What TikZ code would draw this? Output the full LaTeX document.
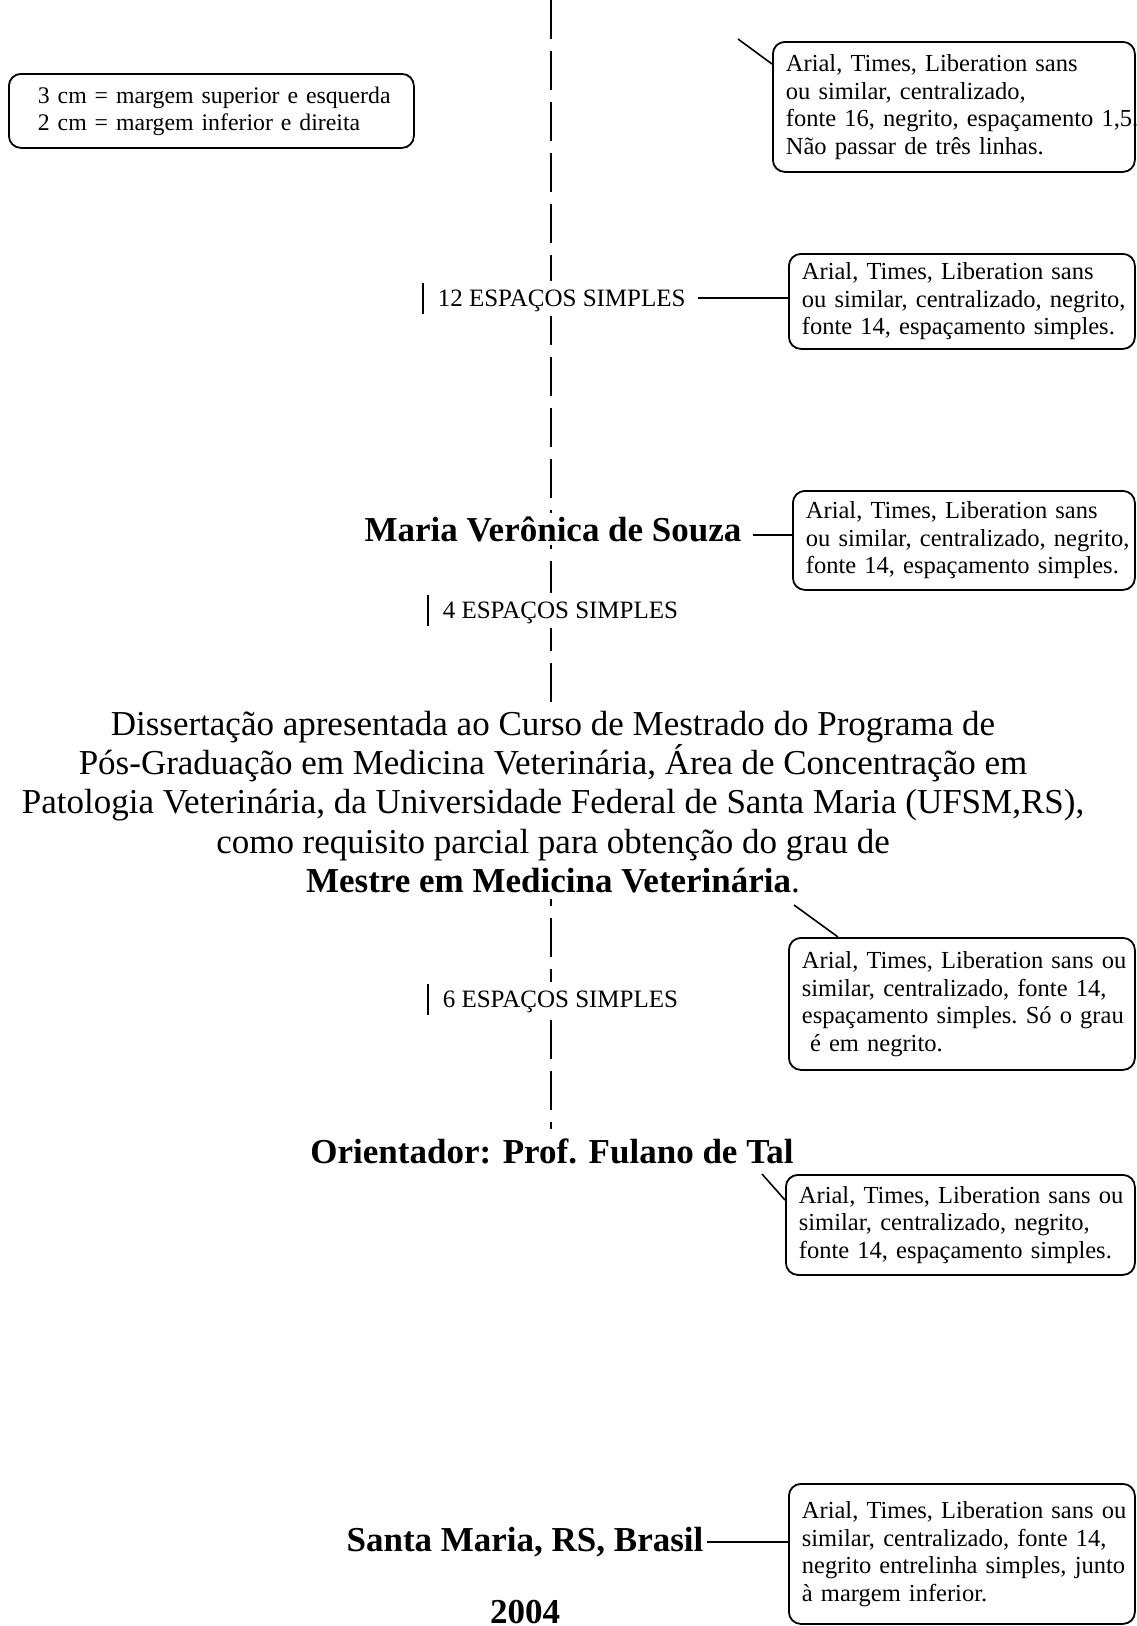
\documentclass[tikz,border=0pt]{standalone}
\usepackage{fontspec}
\setmainfont{Liberation Serif}
\tikzset{
  note/.style={draw, line width=1.8pt, rounded corners=12pt, align=left, anchor=north west,
    inner xsep=13pt, inner ysep=4pt, font=\frenchspacing\fontsize{24.5}{27.5}\selectfont},
  lbl/.style={font=\fontsize{25}{27.5}\selectfont, fill=white, inner xsep=0pt, inner ysep=2pt, anchor=west},
  big/.style={font=\fontsize{35}{39.3}\selectfont\bfseries, fill=white},
  para/.style={font=\fontsize{35}{39.3}\selectfont, fill=white, align=center, inner sep=6pt},
  con/.style={line width=1.6pt},
  guide/.style={line width=2.6pt, dash pattern=on 39pt off 12pt},
}
\newcommand{\vbarmark}{\rule[-7pt]{1.6pt}{31pt}\hspace{14pt}}
\begin{document}
\begin{tikzpicture}[x=1pt,y=-1pt]
\useasboundingbox (0,0) rectangle (1137,1626);
% guide line
\coordinate (gtop) at (551,0);
\coordinate (gbot) at (551,1129);
\draw[guide] (gtop) -- (gbot);

% margin box
\node[note, inner xsep=29pt, text width=347pt, minimum height=74pt,
  font=\frenchspacing\fontsize{23.8}{27}\selectfont] (marg) at (8,73)
  {\mbox{3 cm = margem superior e esquerda}\\\mbox{2 cm = margem inferior e direita}};

% title note
\node[note, text width=336pt, minimum height=130pt] (n1) at (772,41)
  {\mbox{Arial, Times, Liberation sans}\\\mbox{ou similar, centralizado,}\\\mbox{fonte 16, negrito, espaçamento 1,5.}\\\mbox{Não passar de três linhas.}};
\coordinate (t1) at (738,39);
\draw[con] (t1) -- ([yshift=-23pt]n1.north west);

% 12 espacos
\node[lbl] (esp12) at (422,298) {\vbarmark 12 ESPAÇOS SIMPLES};
\node[note, text width=320pt, minimum height=95pt] (n2) at (788,253)
  {\mbox{Arial, Times, Liberation sans}\\\mbox{ou similar, centralizado, negrito,}\\\mbox{fonte 14, espaçamento simples.}};
\draw[con] ([xshift=12pt]esp12.east) -- (esp12.east -| n2.west);

% author
\node[big] (maria) at (553,529) {Maria Verônica de Souza};
\node[note, text width=316pt, minimum height=99pt] (n3) at (792,490)
  {\mbox{Arial, Times, Liberation sans}\\\mbox{ou similar, centralizado, negrito,}\\\mbox{fonte 14, espaçamento simples.}};
\draw[con] ([xshift=8pt,yshift=-6pt]maria.east) -- ([yshift=-6pt]maria.east -| n3.west);

% 4 espacos
\node[lbl] (esp4) at (427,610) {\vbarmark 4 ESPAÇOS SIMPLES};

% dissertation paragraph
\node[para] (diss) at (553,802)
  {Dissertação apresentada ao Curso de Mestrado do Programa de\\
   Pós-Graduação em Medicina Veterinária, Área de Concentração em\\
   Patologia Veterinária, da Universidade Federal de Santa Maria (UFSM,RS),\\
   como requisito parcial para obtenção do grau de\\
   \textbf{Mestre em Medicina Veterinária}.};
\node[note, text width=320pt, minimum height=132pt] (n4) at (788,937)
  {\mbox{Arial, Times, Liberation sans ou}\\\mbox{similar, centralizado, fonte 14,}\\\mbox{espaçamento simples. Só o grau}\\\mbox{ é em negrito.}};
\coordinate (t4) at (794,905);
\draw[con] (t4) -- ([xshift=50pt]n4.north west);

% 6 espacos
\node[lbl] (esp6) at (427,999) {\vbarmark 6 ESPAÇOS SIMPLES};

% advisor
\node[big] (orient) at (552,1151) {Orientador: Prof. Fulano de Tal};
\node[note, text width=323pt, minimum height=100pt] (n5) at (785,1174)
  {\mbox{Arial, Times, Liberation sans ou}\\\mbox{similar, centralizado, negrito,}\\\mbox{fonte 14, espaçamento simples.}};
\coordinate (t5) at (762,1174);
\draw[con] (t5) -- ([yshift=-26pt]n5.north west);

% place and year
\node[big] (santa) at (525,1542) {Santa Maria, RS, Brasil};
\node[big] (ano) at (525,1612) {2004};
\node[note, text width=320pt, minimum height=140pt] (n6) at (788,1483)
  {\mbox{Arial, Times, Liberation sans ou}\\\mbox{similar, centralizado, fonte 14,}\\\mbox{negrito entrelinha simples, junto}\\\mbox{à margem inferior.}};
\draw[con] (santa.east) -- (santa.east -| n6.west);
\end{tikzpicture}
\end{document}
